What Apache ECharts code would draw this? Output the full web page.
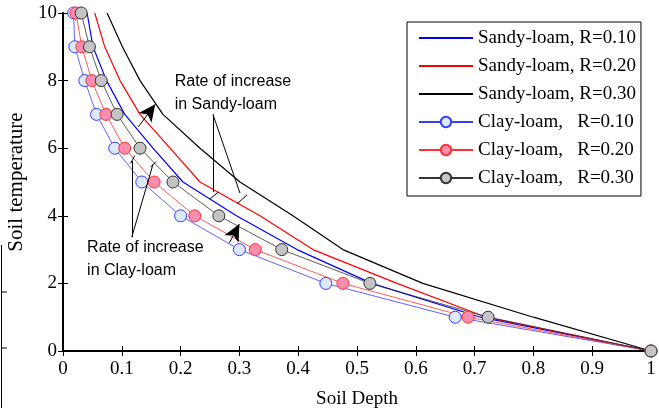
<!DOCTYPE html>
<html>
<head>
<meta charset="utf-8">
<script src="https://cdn.jsdelivr.net/npm/echarts@6/dist/echarts.min.js"></script>
<style>
  html, body { margin: 0; padding: 0; background: #fff; }
  #chart { width: 659px; height: 408px; }
</style>
</head>
<body>
<div id="chart"></div>
<script>
// soil temperature levels (y) and the depth where each curve reaches them (x)
const tempLevels = [10, 9, 8, 7, 6, 5, 4, 3, 2, 1, 0]
const sandy010 = [0.041, 0.051, 0.074, 0.105, 0.153, 0.204, 0.295, 0.398, 0.525, 0.71, 1]
const sandy020 = [0.054, 0.071, 0.097, 0.131, 0.182, 0.233, 0.335, 0.425, 0.568, 0.72, 1]
const sandy030 = [0.075, 0.101, 0.131, 0.170, 0.233, 0.301, 0.391, 0.476, 0.612, 0.80, 1]
const clay010 = [0.018, 0.020, 0.037, 0.057, 0.088, 0.134, 0.200, 0.300, 0.447, 0.667, 1]
const clay020 = [0.022, 0.032, 0.049, 0.073, 0.105, 0.155, 0.224, 0.327, 0.476, 0.689, 1]
const clay030 = [0.031, 0.045, 0.065, 0.092, 0.131, 0.187, 0.265, 0.372, 0.522, 0.723, 1]

const seriesNames = [
  'Sandy-loam, R=0.10',
  'Sandy-loam, R=0.20',
  'Sandy-loam, R=0.30',
  'Clay-loam,   R=0.10',
  'Clay-loam,   R=0.20',
  'Clay-loam,   R=0.30'
]

const pairs = (xs) => xs.map((x, i) => [x, tempLevels[i]])
const serif = '"Liberation Serif", "Times New Roman", serif'
const sans = '"Liberation Sans", Arial, sans-serif'

function sandy(name, values, color) {
  return {
    name: name,
    type: 'line',
    data: pairs(values),
    symbol: 'none',
    lineStyle: { color: color, width: 1.2 },
    itemStyle: { color: color },
    z: 2
  }
}

function clay(name, values, line, fill) {
  return {
    name: name,
    type: 'line',
    data: pairs(values),
    symbol: 'circle',
    symbolSize: 12,
    lineStyle: { color: line, width: 0.8 },
    itemStyle: { color: fill, borderColor: line, borderWidth: 1 },
    z: 3
  }
}

const seg = (a, b) => [{ coord: a }, { coord: b }]
const arrow = (a, b) => [
  { coord: a, symbol: 'none' },
  { coord: b, symbol: 'arrow', symbolSize: [12, 17] }
]

const chart = echarts.init(document.getElementById('chart'))
chart.setOption({
  animation: false,
  backgroundColor: '#fff',
  grid: { left: 63, right: 8, top: 13, bottom: 57, outerBoundsMode: 'none', containLabel: false },
  legend: {
    data: seriesNames.map((n, i) => (i < 3 ? { name: n, itemStyle: { opacity: 0 } } : { name: n })),
    orient: 'vertical',
    left: 407,
    top: 22,
    padding: [6, 5, 8, 11],
    backgroundColor: '#fff',
    borderColor: '#000',
    borderWidth: 1,
    itemWidth: 54,
    itemHeight: 13,
    itemGap: 8,
    textStyle: { fontFamily: serif, fontSize: 19, color: '#000', lineHeight: 20 }
  },
  xAxis: [
    {
      type: 'value',
      min: 0,
      max: 1,
      interval: 0.1,
      name: 'Soil Depth',
      nameLocation: 'middle',
      nameGap: 39,
      nameTextStyle: { fontFamily: serif, fontSize: 19, color: '#000' },
      axisLine: { lineStyle: { color: '#000', width: 2 } },
      axisTick: { inside: true, length: 5, lineStyle: { color: '#000' } },
      axisLabel: { fontFamily: serif, fontSize: 19, color: '#000', margin: 9 },
      splitLine: { show: false }
    },
    {
      type: 'value',
      position: 'top',
      min: 0,
      max: 1,
      interval: 0.1,
      axisLine: { show: true, lineStyle: { color: '#000', width: 1.5 } },
      axisTick: { inside: true, length: 5, lineStyle: { color: '#000' } },
      axisLabel: { show: false },
      splitLine: { show: false }
    }
  ],
  yAxis: [
    {
      type: 'value',
      min: 0,
      max: 10,
      interval: 2,
      name: 'Soil temperature',
      nameLocation: 'middle',
      nameGap: 30,
      nameTextStyle: { fontFamily: serif, fontSize: 21, color: '#000' },
      axisLine: { show: true, lineStyle: { color: '#000', width: 2 } },
      axisTick: { show: true, inside: true, length: 5, lineStyle: { color: '#000' } },
      axisLabel: { fontFamily: serif, fontSize: 19, color: '#000', margin: 6 },
      splitLine: { show: false }
    },
    {
      type: 'value',
      position: 'right',
      min: 0,
      max: 10,
      interval: 2,
      axisLine: { show: true, lineStyle: { color: '#000', width: 1.5 } },
      axisTick: { show: true, inside: true, length: 5, lineStyle: { color: '#000' } },
      axisLabel: { show: false },
      splitLine: { show: false }
    }
  ],
  series: [
    sandy(seriesNames[0], sandy010, '#0000ff'),
    sandy(seriesNames[1], sandy020, '#ff0000'),
    sandy(seriesNames[2], sandy030, '#000000'),
    clay(seriesNames[3], clay010, '#3a3aff', '#dce9f9'),
    clay(seriesNames[4], clay020, '#ff3030', '#f88db0'),
    clay(seriesNames[5], clay030, '#333333', '#c4c4c4'),
    {
      // annotations: leader lines, arrows and notes
      name: 'notes',
      type: 'line',
      data: [],
      z: 5,
      markLine: {
        silent: true,
        symbol: 'none',
        label: { show: false },
        lineStyle: { color: '#000', width: 1, type: 'solid' },
        data: [
          seg([0.255, 7.0], [0.255, 4.7]),
          seg([0.250, 4.5], [0.264, 4.7]),
          seg([0.255, 7.0], [0.301, 4.67]),
          seg([0.296, 4.35], [0.313, 4.62]),
          seg([0.117, 3.37], [0.117, 5.62]),
          seg([0.115, 5.55], [0.122, 5.78]),
          seg([0.117, 3.37], [0.153, 5.52]),
          seg([0.149, 5.44], [0.158, 5.6]),
          arrow([0.128, 6.63], [0.157, 7.3]),
          arrow([0.283, 3.2], [0.300, 3.76])
        ]
      },
      markPoint: {
        silent: true,
        symbol: 'circle',
        symbolSize: 0,
        label: {
          show: true,
          position: 'right',
          distance: 0,
          fontFamily: sans,
          fontSize: 16,
          lineHeight: 23,
          color: '#000',
          align: 'left'
        },
        data: [
          { coord: [0.190, 7.62], value: 'Rate of increase\nin Sandy-loam' },
          { coord: [0.041, 2.71], value: 'Rate of increase\nin Clay-loam' }
        ]
      }
    }
  ],
  graphic: [
    {
      // edge of the neighbouring figure, cut off on the left
      type: 'group',
      silent: true,
      children: [
        { type: 'line', shape: { x1: 1.5, y1: 245, x2: 1.5, y2: 408 }, style: { stroke: '#000', lineWidth: 1 } },
        { type: 'line', shape: { x1: 1.5, y1: 292, x2: 7, y2: 292 }, style: { stroke: '#000', lineWidth: 1 } },
        { type: 'line', shape: { x1: 1.5, y1: 348, x2: 7, y2: 348 }, style: { stroke: '#000', lineWidth: 1 } }
      ]
    }
  ]
})
</script>
</body>
</html>
